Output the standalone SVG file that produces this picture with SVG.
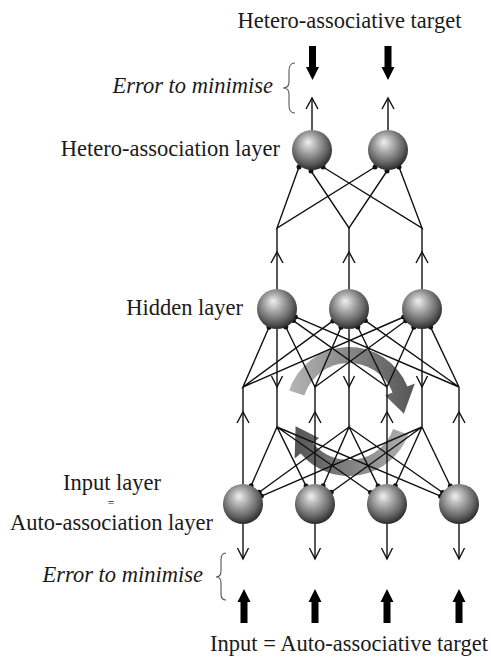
<svg xmlns="http://www.w3.org/2000/svg" xmlns:xlink="http://www.w3.org/1999/xlink" width="491" height="658" viewBox="0 0 491 658">
<style>
.ln{stroke:#111;stroke-width:1.4;fill:none;stroke-linejoin:miter}
.br{stroke:#555;stroke-width:1.1;fill:none}
.dot{fill:#111}
.t{font-family:"Liberation Serif","Times New Roman",serif;font-size:22.5px;fill:#1a1a1a}
.i{font-style:italic}
.node{fill:url(#sph)}
.thick{fill:#000}
</style>
<defs>
<radialGradient id="sph" cx="0.45" cy="0.4" r="0.62" fx="0.4" fy="0.3">
<stop offset="0" stop-color="#f0f0f0"/>
<stop offset="0.3" stop-color="#b5b5b5"/>
<stop offset="0.75" stop-color="#5f5f5f"/>
<stop offset="1" stop-color="#262626"/>
</radialGradient>
<linearGradient id="gTop" x1="0" y1="0" x2="1" y2="0">
<stop offset="0" stop-color="#b5b5b5"/>
<stop offset="1" stop-color="#555"/>
</linearGradient>
<linearGradient id="gBot" x1="1" y1="0" x2="0" y2="0">
<stop offset="0" stop-color="#b0b0b0"/>
<stop offset="1" stop-color="#555"/>
</linearGradient>
<path id="vu" class="ln" d="M-6,11 L0,0 L6,11"/>
<path id="vd" class="ln" d="M-5.5,-11 L0,0 L5.5,-11"/>
<path id="ta" class="thick" d="M0,0 L6.5,13 L3.5,13 L3.5,34 L-3.5,34 L-3.5,13 L-6.5,13 Z"/>
</defs>
<rect width="491" height="658" fill="#fff"/>

<g id="cycle">
<path fill="url(#gTop)" d="M289.1,390.5 A63,63 0 0 1 407.4,386.4 L414.8,383.4 L403.9,413.8 L385.2,395.4 L392.6,392.4 A47,47 0 0 0 304.3,395.5 Z"/>
<path fill="url(#gBot)" d="M408.2,434.5 A63,63 0 0 1 300.7,453.5 L294.6,458.6 L295.6,426.3 L319.1,438.1 L313,443.2 A47,47 0 0 0 393.2,429.1 Z"/>
</g>

<g id="connectors">
<path class="ln" d="M312,130 V98 M388,130 V98"/>
<use xlink:href="#vu" x="312" y="98"/>
<use xlink:href="#vu" x="388" y="98"/>
<path class="ln" d="M277,289 V228 M349,289 V228 M422,289 V228"/>
<use xlink:href="#vu" x="277" y="252"/>
<use xlink:href="#vu" x="349" y="252"/>
<use xlink:href="#vu" x="422" y="252"/>
<path class="ln" d="M299,167 L277,228 L375,167 M311,171 L349,228 L387,171 M323,167 L422,228 L399,167"/>
<g class="dot">
<circle cx="299" cy="167" r="2.5"/><circle cx="311" cy="171" r="2.5"/><circle cx="323" cy="167" r="2.5"/>
<circle cx="375" cy="167" r="2.5"/><circle cx="387" cy="171" r="2.5"/><circle cx="399" cy="167" r="2.5"/>
</g>

<path class="ln" d="M243,484 V387 M315,484 V387 M387,484 V387 M459,484 V387"/>
<use xlink:href="#vu" x="243" y="412"/>
<use xlink:href="#vu" x="315" y="412"/>
<use xlink:href="#vu" x="387" y="412"/>
<use xlink:href="#vu" x="459" y="412"/>
<path class="ln" d="M269,327.3 L243,387 L332.9,320.9 M243,387 L403.7,317
M285.8,327 L315,387 L341,327.3 M315,387 L405.8,320.8
M293.3,320.6 L387,387 L357.8,327 M387,387 L413.8,327.2
M295.4,316.9 L459,387 L365.3,320.6 M459,387 L430.6,327.1"/>
<g class="dot">
<circle cx="269" cy="327.3" r="2.5"/><circle cx="332.9" cy="320.9" r="2.5"/><circle cx="403.7" cy="317" r="2.5"/>
<circle cx="285.8" cy="327" r="2.5"/><circle cx="341" cy="327.3" r="2.5"/><circle cx="405.8" cy="320.8" r="2.5"/>
<circle cx="293.3" cy="320.6" r="2.5"/><circle cx="357.8" cy="327" r="2.5"/><circle cx="413.8" cy="327.2" r="2.5"/>
<circle cx="295.4" cy="316.9" r="2.5"/><circle cx="365.3" cy="320.6" r="2.5"/><circle cx="430.6" cy="327.1" r="2.5"/>
</g>

<path class="ln" d="M277,329 V427 M349,329 V427 M422,329 V427"/>
<use xlink:href="#vd" x="277" y="387"/>
<use xlink:href="#vd" x="349" y="387"/>
<use xlink:href="#vd" x="422" y="387"/>
<path class="ln" d="M251.1,485.7 L277,427 L306.1,486.1 M277,427 L370.6,492.5 M277,427 L440.6,496.2
M259.2,492.2 L349,427 L323.1,485.7 M349,427 L378.1,486.1 M349,427 L442.6,492.5
M261.4,496.1 L422,427 L331.2,492.3 M422,427 L395.3,485.8 M422,427 L450.3,486"/>
<g class="dot">
<circle cx="251.1" cy="485.7" r="2.5"/><circle cx="306.1" cy="486.1" r="2.5"/><circle cx="370.6" cy="492.5" r="2.5"/><circle cx="440.6" cy="496.2" r="2.5"/>
<circle cx="259.2" cy="492.2" r="2.5"/><circle cx="323.1" cy="485.7" r="2.5"/><circle cx="378.1" cy="486.1" r="2.5"/><circle cx="442.6" cy="492.5" r="2.5"/>
<circle cx="261.4" cy="496.1" r="2.5"/><circle cx="331.2" cy="492.3" r="2.5"/><circle cx="395.3" cy="485.8" r="2.5"/><circle cx="450.3" cy="486" r="2.5"/>
</g>

<path class="ln" d="M243,524 V559 M315,524 V559 M387,524 V559 M459,524 V559"/>
<use xlink:href="#vd" x="243" y="559"/>
<use xlink:href="#vd" x="315" y="559"/>
<use xlink:href="#vd" x="387" y="559"/>
<use xlink:href="#vd" x="459" y="559"/>

<use xlink:href="#ta" transform="translate(312.5,80) rotate(180)"/>
<use xlink:href="#ta" transform="translate(388,80) rotate(180)"/>
<use xlink:href="#ta" x="244" y="589"/>
<use xlink:href="#ta" x="315" y="589"/>
<use xlink:href="#ta" x="387" y="589"/>
<use xlink:href="#ta" x="459" y="589"/>

<path class="br" d="M295,63 C290,63 289,66 289,71 L289,82 C289,86 287,88 283,88 C287,88 289,90 289,94 L289,105 C289,110 290,113 295,113"/>
<path class="br" d="M226,553 C222,553 221,556 221,560 L221,571 C221,575 219,577 216,577 C219,577 221,579 221,583 L221,594 C221,598 222,600 226,600"/>
</g>

<g id="hetero1"><circle class="node" cx="312" cy="150" r="20"/></g>
<g id="hetero2"><circle class="node" cx="388" cy="150" r="20"/></g>
<g id="hidden1"><circle class="node" cx="277" cy="309" r="20"/></g>
<g id="hidden2"><circle class="node" cx="349" cy="309" r="20"/></g>
<g id="hidden3"><circle class="node" cx="422" cy="309" r="20"/></g>
<g id="input1"><circle class="node" cx="243" cy="504" r="20"/></g>
<g id="input2"><circle class="node" cx="315" cy="504" r="20"/></g>
<g id="input3"><circle class="node" cx="387" cy="504" r="20"/></g>
<g id="input4"><circle class="node" cx="459" cy="504" r="20"/></g>

<g id="labels">
<text class="t" x="112" y="489.5" text-anchor="middle">Input layer</text>
<text class="t" x="111" y="506.5" text-anchor="middle" style="font-size:11.5px">=</text>
<text class="t" x="111.5" y="529.5" text-anchor="middle">Auto-association layer</text>
<text class="t" x="349.5" y="28" text-anchor="middle">Hetero-associative target</text>
<text class="t i" x="273" y="93" text-anchor="end">Error to minimise</text>
<text class="t" x="280" y="156" text-anchor="end">Hetero-association layer</text>
<text class="t" x="243" y="315" text-anchor="end">Hidden layer</text>
<text class="t i" x="203" y="582" text-anchor="end">Error to minimise</text>
<text class="t" x="349" y="651" text-anchor="middle">Input = Auto-associative target</text>
</g>
</svg>
